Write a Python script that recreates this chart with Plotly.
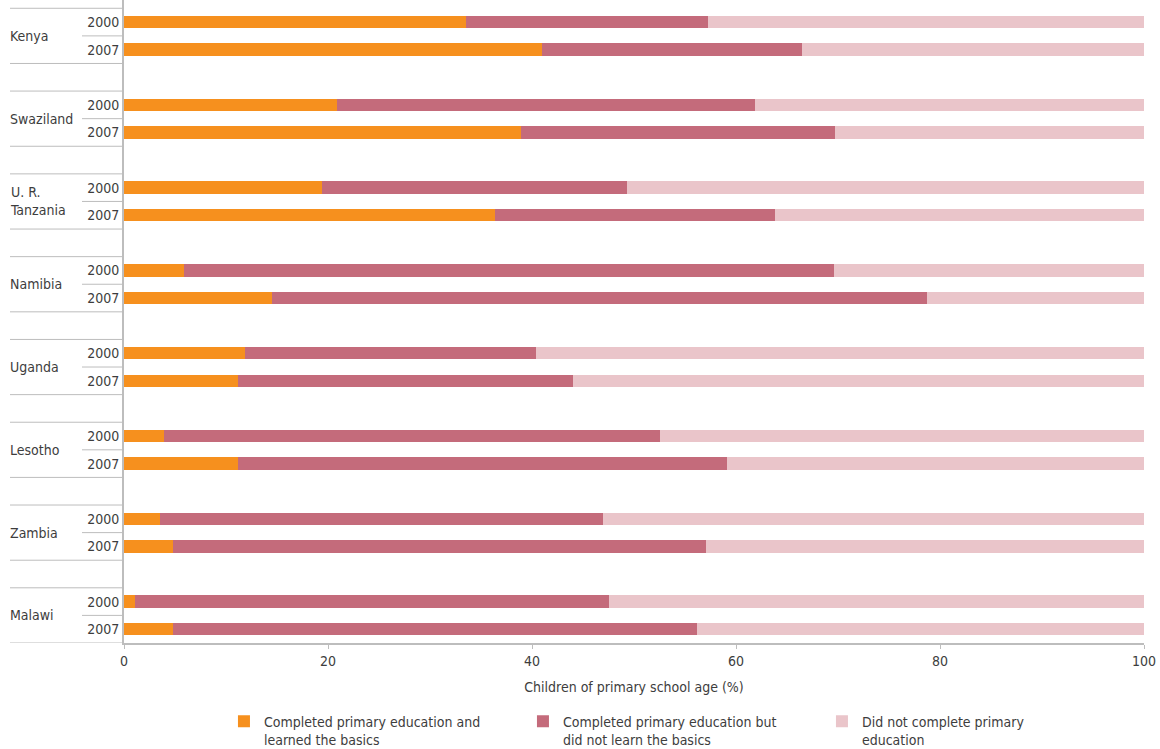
import plotly.graph_objects as go

countries = ["Kenya", "Swaziland", "U. R.<br>Tanzania", "Namibia", "Uganda", "Lesotho", "Zambia", "Malawi"]
years = ["2000", "2007"]

# end of orange segment (completed & learned), end of rose segment (completed), per country x year
learned = [33.5, 41.0, 20.9, 38.9, 19.4, 36.4, 5.9, 14.5, 11.9, 11.2, 3.9, 11.2, 3.5, 4.8, 1.1, 4.8]
completed = [57.3, 66.5, 61.9, 69.7, 49.3, 63.8, 69.6, 78.7, 40.4, 44.0, 52.5, 59.1, 47.0, 57.1, 47.5, 56.2]

not_learned = [round(c - l, 1) for l, c in zip(learned, completed)]
not_completed = [round(100 - c, 1) for c in completed]

series_names = [
    "Completed primary education and<br>learned the basics",
    "Completed primary education but<br>did not learn the basics",
    "Did not complete primary<br>education",
]
colors = ["#F6901E", "#C46B7B", "#EAC5CA"]

FONT = "Liberation Sans Narrow, DejaVu Sans Condensed, Roboto, sans-serif"
TXT = "#3d3d3d"
LINE = "#bdbdbd"

# numeric positions: 3 slots per country (2 bars + gap)
pos = [3 * i + j for i in range(len(countries)) for j in range(len(years))]
year_labels = [years[j] for i in range(len(countries)) for j in range(len(years))]

fig = go.Figure()
for name, vals, col in zip(series_names, [learned, not_learned, not_completed], colors):
    fig.add_trace(go.Bar(
        x=vals, y=pos, orientation="h", name=name,
        marker=dict(color=col, line=dict(width=0)),
        width=0.45,
    ))

shapes = []
annotations = []
x_left = (10 - 124) / 1020
x_mid = (82 - 124) / 1020
for i, c in enumerate(countries):
    top = 3 * i - 0.5
    mid = 3 * i + 0.5
    bot = 3 * i + 1.5
    for yy in (top, bot):
        shapes.append(dict(type="line", xref="paper", yref="y", x0=x_left, x1=0,
                           y0=yy, y1=yy, line=dict(color=LINE, width=1)))
    shapes.append(dict(type="line", xref="paper", yref="y", x0=x_mid, x1=0,
                       y0=mid, y1=mid, line=dict(color=LINE, width=1)))
    annotations.append(dict(text=c, xref="paper", yref="y", x=(8 - 124) / 1020, y=mid,
                            xanchor="left", yanchor="middle", showarrow=False,
                            align="left", font=dict(family=FONT, size=14, color=TXT)))

fig.update_layout(
    barmode="stack",
    width=1160, height=749,
    margin=dict(l=124, r=16, t=0, b=106),
    paper_bgcolor="white", plot_bgcolor="white",
    font=dict(family=FONT, size=14, color=TXT),
    shapes=shapes,
    annotations=annotations,
    showlegend=True,
    legend=dict(
        orientation="h", x=0.098, xanchor="left",
        yref="container", y=0.058, yanchor="top",
        entrywidth=254, valign="top", traceorder="normal",
        font=dict(family=FONT, size=14, color=TXT),
        itemclick=False, itemdoubleclick=False,
    ),
    bargap=0,
)
fig.update_xaxes(
    range=[0, 100], tickvals=[0, 20, 40, 60, 80, 100],
    showgrid=False, zeroline=False,
    showline=True, linecolor=LINE, linewidth=2,
    ticks="outside", ticklen=4, tickcolor=LINE,
    title=dict(text="Children of primary school age (%)", standoff=14,
               font=dict(family=FONT, size=14, color=TXT)),
    tickfont=dict(family=FONT, size=14, color=TXT),
)
fig.update_yaxes(
    range=[22.5, -0.8], tickvals=pos, ticktext=year_labels,
    showgrid=False, zeroline=False,
    showline=True, linecolor=LINE, linewidth=2,
    ticks="", tickfont=dict(family=FONT, size=14, color=TXT),
)

fig.write_html(
    "out.html",
    config={"displayModeBar": False},
    post_script="document.body.style.margin='0';document.body.style.overflow='hidden';",
)
